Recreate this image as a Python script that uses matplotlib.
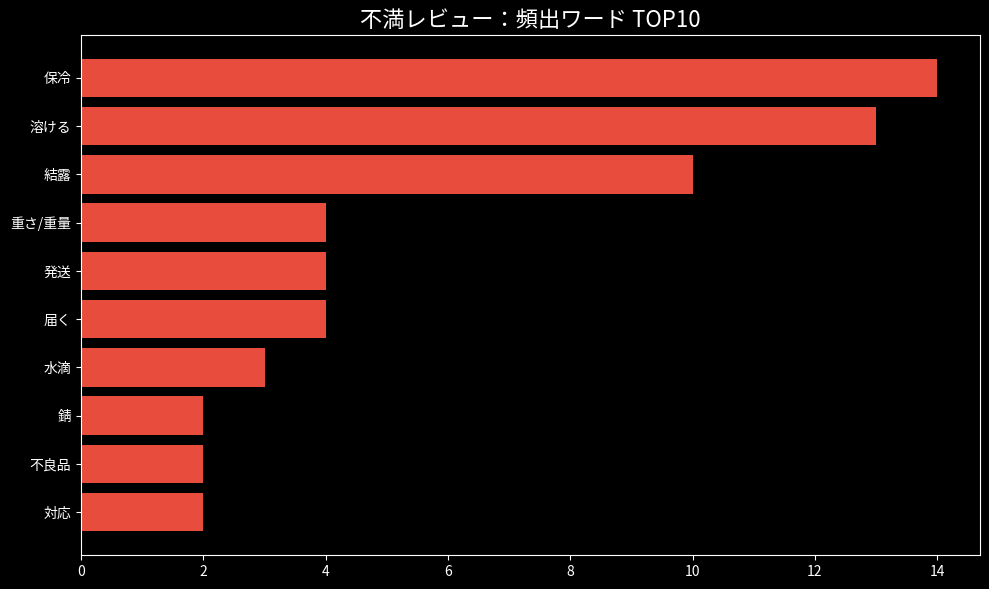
import matplotlib
matplotlib.use("Agg")
import matplotlib.pyplot as plt

plt.style.use("dark_background")
plt.rcParams['font.family'] = ['Noto Sans CJK JP', 'DejaVu Sans']

palavras = ["保冷", "溶ける", "結露", "重さ/重量", "発送", "届く", "水滴", "錆", "不良品", "対応"]
contagens = [14, 13, 10, 4, 4, 4, 3, 2, 2, 2]

fig, ax = plt.subplots(figsize=(9.89, 5.89), dpi=100)
ax.barh(palavras[::-1], contagens[::-1], color="#E74C3C")
ax.set_title("不満レビュー：頻出ワード TOP10", fontsize=16)
ax.tick_params(labelsize=10)

fig.subplots_adjust(left=0.082, right=0.991, top=0.9406, bottom=0.0577)
fig.savefig("out.png", dpi=100)
